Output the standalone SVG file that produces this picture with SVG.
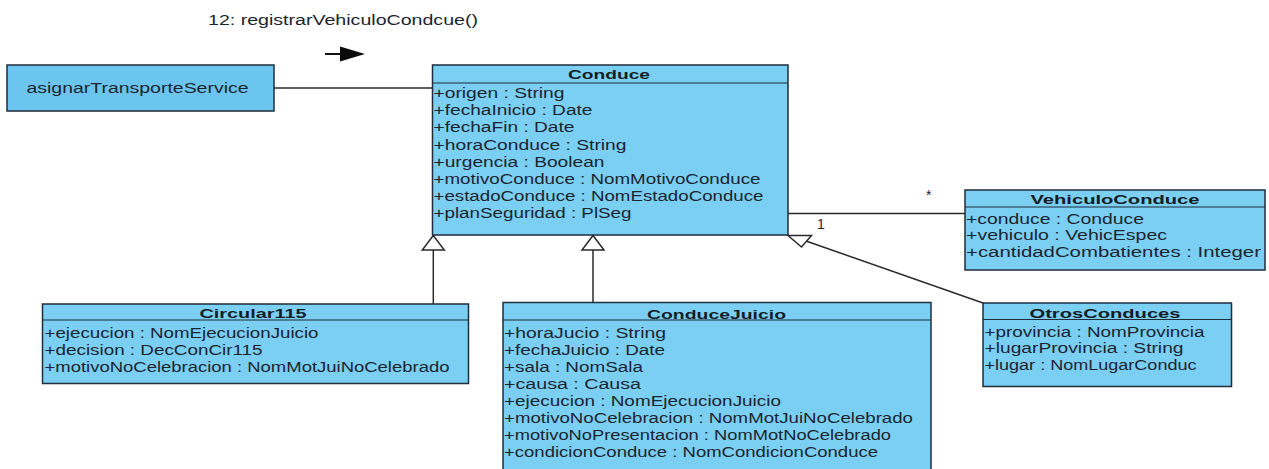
<svg xmlns="http://www.w3.org/2000/svg" width="1269" height="469" viewBox="0 0 1269 469">
<style>
.box{fill:#7bcff3;stroke:#1f2d3d;stroke-width:1.5}
.svc{fill:#6cc5ee;stroke:#1f2d3d;stroke-width:1.5}
.sep{stroke:#1f2d3d;stroke-width:1.2}
.t{font-family:"Liberation Sans",Arial,sans-serif;font-size:14px;fill:#1b2530}
.h{font-family:"Liberation Sans",Arial,sans-serif;font-size:13px;font-weight:bold;fill:#141c26;text-anchor:middle}
.ln{stroke:#2a2a2a;stroke-width:1.5;fill:none}
.gen{fill:#ffffff;stroke:#2a2a2a;stroke-width:1.5}
</style>
<rect width="1269" height="469" fill="#ffffff"/>
<g id="connectors">
<line class="ln" x1="274" y1="88" x2="432.5" y2="88"/>
<line class="ln" x1="788" y1="213.5" x2="965" y2="213.5"/>
<text class="t" x="926" y="200">*</text>
<text class="t" x="817" y="229">1</text>
<line class="ln" x1="433.3" y1="250" x2="433.3" y2="304"/>
<polygon class="gen" points="433.3,235.5 422.3,250 444.3,250"/>
<line class="ln" x1="593" y1="250" x2="593" y2="302.5"/>
<polygon class="gen" points="593,235.5 582,250 604,250"/>
<line class="ln" x1="806" y1="241" x2="983" y2="303"/>
<polygon class="gen" points="788,235.5 811.5,235.5 801.5,247"/>
<line x1="325" y1="54" x2="341" y2="54" stroke="#111" stroke-width="2"/>
<polygon points="340,46.5 365,54 340,61.5" fill="#0a0a0a"/>
<text class="t" x="208" y="25" font-size="14" textLength="270" lengthAdjust="spacingAndGlyphs" fill="#222">12: registrarVehiculoCondcue()</text>
</g>
<g id="asignarTransporteService">
<rect class="svc" x="7" y="65" width="267" height="46"/>
<text class="t" x="26.5" y="93" textLength="222" lengthAdjust="spacingAndGlyphs">asignarTransporteService</text>
</g>
<g id="Conduce">
<rect class="box" x="432.5" y="65" width="355.5" height="170"/>
<line class="sep" x1="432.5" y1="83" x2="788" y2="83"/>
<text class="h" x="609" y="78.5" textLength="82" lengthAdjust="spacingAndGlyphs">Conduce</text>
<text class="t" x="433.5" y="98" textLength="131" lengthAdjust="spacingAndGlyphs">+origen : String</text>
<text class="t" x="433.5" y="115.2" textLength="159" lengthAdjust="spacingAndGlyphs">+fechaInicio : Date</text>
<text class="t" x="433.5" y="132.4" textLength="141" lengthAdjust="spacingAndGlyphs">+fechaFin : Date</text>
<text class="t" x="433.5" y="149.6" textLength="193" lengthAdjust="spacingAndGlyphs">+horaConduce : String</text>
<text class="t" x="433.5" y="166.8" textLength="171" lengthAdjust="spacingAndGlyphs">+urgencia : Boolean</text>
<text class="t" x="433.5" y="184" textLength="327" lengthAdjust="spacingAndGlyphs">+motivoConduce : NomMotivoConduce</text>
<text class="t" x="433.5" y="201.2" textLength="330" lengthAdjust="spacingAndGlyphs">+estadoConduce : NomEstadoConduce</text>
<text class="t" x="433.5" y="218.4" textLength="198" lengthAdjust="spacingAndGlyphs">+planSeguridad : PlSeg</text>
</g>
<g id="VehiculoConduce">
<rect class="box" x="965" y="190" width="300" height="80"/>
<line class="sep" x1="965" y1="207" x2="1265" y2="207"/>
<text class="h" x="1115" y="204" textLength="169" lengthAdjust="spacingAndGlyphs">VehiculoConduce</text>
<text class="t" x="966" y="223.5" textLength="178" lengthAdjust="spacingAndGlyphs">+conduce : Conduce</text>
<text class="t" x="966" y="240" textLength="201" lengthAdjust="spacingAndGlyphs">+vehiculo : VehicEspec</text>
<text class="t" x="966" y="256.5" textLength="295" lengthAdjust="spacingAndGlyphs">+cantidadCombatientes : Integer</text>
</g>
<g id="Circular115">
<rect class="box" x="42.5" y="304" width="426" height="79.5"/>
<line class="sep" x1="42.5" y1="320" x2="468.5" y2="320"/>
<text class="h" x="253" y="317.5" textLength="107" lengthAdjust="spacingAndGlyphs">Circular115</text>
<text class="t" x="44.5" y="338" textLength="274" lengthAdjust="spacingAndGlyphs">+ejecucion : NomEjecucionJuicio</text>
<text class="t" x="44.5" y="355" textLength="218" lengthAdjust="spacingAndGlyphs">+decision : DecConCir115</text>
<text class="t" x="44.5" y="372" textLength="405" lengthAdjust="spacingAndGlyphs">+motivoNoCelebracion : NomMotJuiNoCelebrado</text>
</g>
<g id="ConduceJuicio">
<rect class="box" x="503" y="302.5" width="428" height="172"/>
<line class="sep" x1="503" y1="320" x2="931" y2="320"/>
<text class="h" x="716.5" y="319" textLength="139" lengthAdjust="spacingAndGlyphs">ConduceJuicio</text>
<text class="t" x="504" y="338" textLength="162" lengthAdjust="spacingAndGlyphs">+horaJucio : String</text>
<text class="t" x="504" y="355" textLength="161" lengthAdjust="spacingAndGlyphs">+fechaJuicio : Date</text>
<text class="t" x="504" y="372" textLength="139" lengthAdjust="spacingAndGlyphs">+sala : NomSala</text>
<text class="t" x="504" y="389" textLength="137" lengthAdjust="spacingAndGlyphs">+causa : Causa</text>
<text class="t" x="504" y="406" textLength="277" lengthAdjust="spacingAndGlyphs">+ejecucion : NomEjecucionJuicio</text>
<text class="t" x="504" y="423" textLength="409" lengthAdjust="spacingAndGlyphs">+motivoNoCelebracion : NomMotJuiNoCelebrado</text>
<text class="t" x="504" y="440" textLength="387" lengthAdjust="spacingAndGlyphs">+motivoNoPresentacion : NomMotNoCelebrado</text>
<text class="t" x="504" y="457" textLength="374" lengthAdjust="spacingAndGlyphs">+condicionConduce : NomCondicionConduce</text>
</g>
<g id="OtrosConduces">
<rect class="box" x="983" y="303" width="248.5" height="83.5"/>
<line class="sep" x1="983" y1="319.5" x2="1231.5" y2="319.5"/>
<text class="h" x="1105" y="317.5" textLength="151" lengthAdjust="spacingAndGlyphs">OtrosConduces</text>
<text class="t" x="984.5" y="336.5" textLength="220" lengthAdjust="spacingAndGlyphs">+provincia : NomProvincia</text>
<text class="t" x="984.5" y="353" textLength="199" lengthAdjust="spacingAndGlyphs">+lugarProvincia : String</text>
<text class="t" x="984.5" y="370" textLength="212" lengthAdjust="spacingAndGlyphs">+lugar : NomLugarConduc</text>
</g>
</svg>
